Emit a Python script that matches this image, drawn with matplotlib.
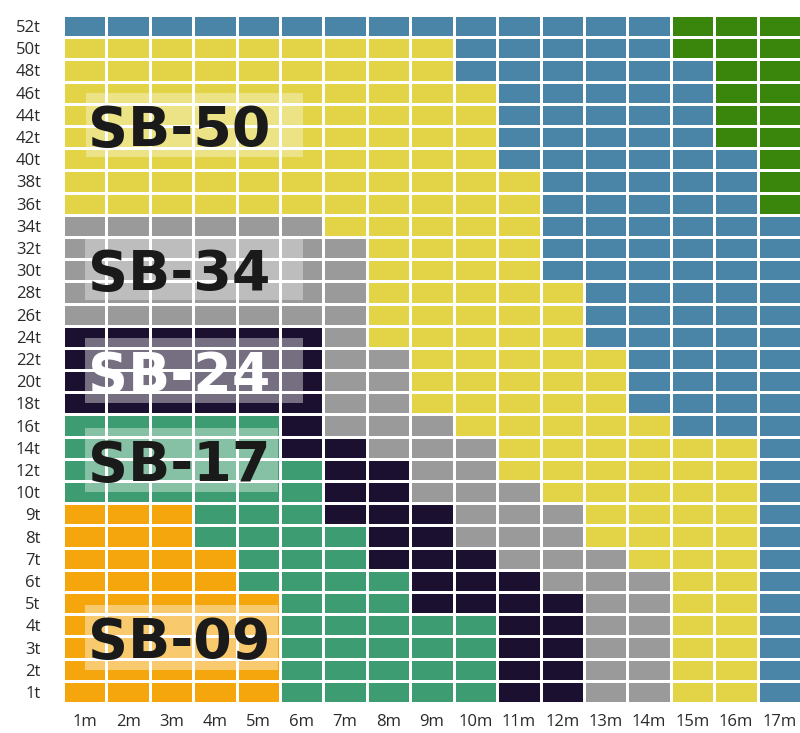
import numpy as np
import matplotlib
matplotlib.use("Agg")
import matplotlib.pyplot as plt
from matplotlib.colors import ListedColormap
from matplotlib.patches import Rectangle

# ---- data ----
col_labels = [f"{i}m" for i in range(1, 18)]
row_labels = ["1t", "2t", "3t", "4t", "5t", "6t", "7t", "8t", "9t",
              "10t", "12t", "14t", "16t", "18t", "20t", "22t", "24t", "26t",
              "28t", "30t", "32t", "34t", "36t", "38t", "40t", "42t", "44t",
              "46t", "48t", "50t", "52t"]
# category codes: O=SB-09, G=SB-17, D=SB-24, K=SB-34, Y=SB-50, B=blue, N=dark green
category_codes = ["O", "G", "D", "K", "Y", "B", "N"]
category_colors = ["#F5A60C", "#3D9C71", "#1C1030", "#9A9A9A", "#E2D446", "#4A84A6", "#3A860C"]
grid_rows = [  # bottom (1t) to top (52t)
    "OOOOOGGGGGDDKKYYB",  # 1t
    "OOOOOGGGGGDDKKYYB",  # 2t
    "OOOOOGGGGGDDKKYYB",  # 3t
    "OOOOOGGGGGDDKKYYB",  # 4t
    "OOOOOGGGDDDDKKYYB",  # 5t
    "OOOOGGGGDDDKKKYYB",  # 6t
    "OOOOGGGDDDKKKYYYB",  # 7t
    "OOOGGGGDDKKKYYYYB",  # 8t
    "OOOGGGDDDKKKYYYYB",  # 9t
    "GGGGGGDDKKKYYYYYB",  # 10t
    "GGGGGGDDKKYYYYYYB",  # 12t
    "GGGGGDDKKKYYYYYYB",  # 14t
    "GGGGGDKKKYYYYYBBB",  # 16t
    "DDDDDDKKYYYYYBBBB",  # 18t
    "DDDDDDKKYYYYYBBBB",  # 20t
    "DDDDDDKKYYYYYBBBB",  # 22t
    "DDDDDDKYYYYYBBBBB",  # 24t
    "KKKKKKKYYYYYBBBBB",  # 26t
    "KKKKKKKYYYYYBBBBB",  # 28t
    "KKKKKKKYYYYBBBBBB",  # 30t
    "KKKKKKKYYYYBBBBBB",  # 32t
    "KKKKKKYYYYYBBBBBB",  # 34t
    "YYYYYYYYYYYBBBBBN",  # 36t
    "YYYYYYYYYYYBBBBBN",  # 38t
    "YYYYYYYYYYBBBBBBN",  # 40t
    "YYYYYYYYYYBBBBBNN",  # 42t
    "YYYYYYYYYYBBBBBNN",  # 44t
    "YYYYYYYYYYBBBBBNN",  # 46t
    "YYYYYYYYYBBBBBBNN",  # 48t
    "YYYYYYYYYBBBBBNNN",  # 50t
    "BBBBBBBBBBBBBBNNN",  # 52t
]
label_names = ["SB-50", "SB-34", "SB-24", "SB-17", "SB-09"]

codes = np.array([[category_codes.index(c) for c in r] for r in grid_rows])

# ---- figure ----
W, H = 800, 733
fig = plt.figure(figsize=(W / 100, H / 100), dpi=100)
L, R, T, B = 63, 801, 15, 703
ax = fig.add_axes([L / W, 1 - B / H, (R - L) / W, (B - T) / H])

cmap = ListedColormap(category_colors)
ax.pcolormesh(np.arange(len(col_labels) + 1), np.arange(len(row_labels) + 1), codes,
              cmap=cmap, vmin=-0.5, vmax=len(category_codes) - 0.5,
              edgecolors="white", linewidth=1.9, zorder=1)
ax.set_xlim(0, len(col_labels))
ax.set_ylim(0, len(row_labels))

# label boxes (pixel geometry -> data)
def px2x(p):
    return (p - L) / (R - L) * len(col_labels)

def py2y(p):
    return (B - p) / (B - T) * len(row_labels)

boxes = {
    "SB-50": (86, 303, 93, 157, "#1a1a1a", 0.35),
    "SB-34": (85, 303, 238, 300, "#1a1a1a", 0.35),
    "SB-24": (85, 303, 338, 403, "white", 0.40),
    "SB-17": (85, 278, 428, 492, "#1a1a1a", 0.38),
    "SB-09": (85, 278, 605, 670, "#1a1a1a", 0.40),
}
for name in label_names:
    x0, x1, y0, y1, tc, a = boxes[name]
    ax.add_patch(Rectangle((px2x(x0), py2y(y1)), px2x(x1) - px2x(x0), py2y(y0) - py2y(y1),
                           facecolor="white", alpha=a, edgecolor="none", zorder=2))
    ax.text(px2x(88), (py2y(y0) + py2y(y1)) / 2, name, fontsize=40, fontweight="bold",
            family="DejaVu Sans", color=tc, va="center_baseline", ha="left", zorder=3)

ax.set_xticks(np.arange(len(col_labels)) + 0.5)
ax.set_xticklabels(col_labels, fontsize=12, family="Open Sans", color="#2a2a2a")
ax.set_yticks(np.arange(len(row_labels)) + 0.5)
ax.set_yticklabels(row_labels, fontsize=12, family="Open Sans", color="#2a2a2a")
ax.tick_params(axis="both", length=0)
ax.tick_params(axis="x", pad=8)
ax.tick_params(axis="y", pad=16)
for s in ax.spines.values():
    s.set_visible(False)

fig.savefig("out.png", dpi=100)
